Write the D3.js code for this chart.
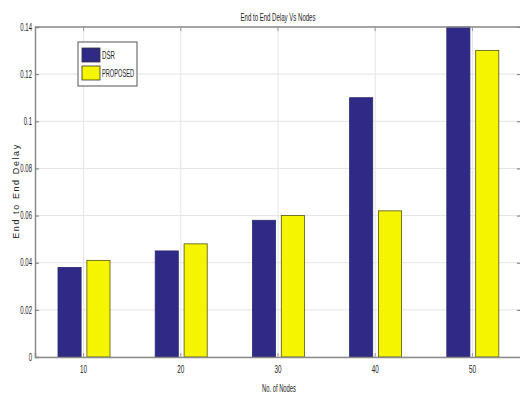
<!DOCTYPE html>
<html><head><meta charset="utf-8">
<script src="https://cdn.jsdelivr.net/npm/d3@7"></script>
<style>body{margin:0;background:#fff}svg{display:block}text{font-family:"Liberation Sans",Arial,sans-serif;fill:#222}</style>
</head><body><svg id="c" width="520" height="394"></svg>
<script>
const categories = [10, 20, 30, 40, 50];
const seriesNames = ["DSR", "PROPOSED"];
const dsr = [0.038, 0.045, 0.058, 0.110, 0.140];
const proposed = [0.041, 0.048, 0.060, 0.062, 0.130];
const yTicks = [0, 0.02, 0.04, 0.06, 0.08, 0.1, 0.12, 0.14];
const yTickLabels = ["0", "0.02", "0.04", "0.06", "0.08", "0.1", "0.12", "0.14"];
const colors = ["#2f2a86", "#f5f500"];

const svg = d3.select("#c");
const L = 35, R = 521, T = 27, B = 357;
const x = d3.scaleBand().domain(categories).range([L, R]).padding(0);
const xs = d3.scaleBand().domain(seriesNames).range([23, 75]).paddingInner(0.2).paddingOuter(0);
const y = d3.scaleLinear().domain([0, 0.14]).range([B, T]);

// grid
const g = svg.append("g");
g.selectAll(".hg").data(yTicks).join("line")
  .attr("x1", L).attr("x2", R).attr("y1", d => y(d)).attr("y2", d => y(d))
  .attr("stroke", "#e4e4e4").attr("stroke-width", 1);
g.selectAll(".vg").data(categories).join("line")
  .attr("x1", d => x(d) + x.bandwidth() / 2).attr("x2", d => x(d) + x.bandwidth() / 2)
  .attr("y1", T).attr("y2", B).attr("stroke", "#e4e4e4").attr("stroke-width", 1);

// bars
const rows = categories.map((c, i) => ({c, vals: [dsr[i], proposed[i]]}));
const grp = svg.append("g").selectAll("g").data(rows).join("g")
  .attr("transform", d => `translate(${x(d.c)},0)`);
grp.selectAll("rect").data(d => d.vals.map((v, k) => ({k, v}))).join("rect")
  .attr("x", d => xs(seriesNames[d.k])).attr("width", xs.bandwidth())
  .attr("y", d => y(d.v)).attr("height", d => y(0) - y(d.v))
  .attr("fill", d => colors[d.k])
  .attr("stroke", d => d.k === 0 ? "#2a2570" : "#55550a").attr("stroke-width", 0.8);

// axes
const yAx = d3.axisLeft(y).tickValues(yTicks).tickFormat((d, i) => yTickLabels[i]).tickSize(-4).tickPadding(3);
const ya = svg.append("g").attr("transform", `translate(${L},0)`).call(yAx);
ya.select(".domain").attr("stroke", "#8a8a8a").attr("stroke-width", 1.5);
ya.selectAll(".tick line").attr("stroke", "#777");
ya.selectAll("text").style("font-size", "10px").attr("fill", "#333")
  .each(function(){ const w = this.getComputedTextLength(); d3.select(this).attr("textLength", w*0.6).attr("lengthAdjust","spacingAndGlyphs"); });

const yR = d3.axisRight(y).tickValues(yTicks).tickFormat("").tickSize(-4);
const yr = svg.append("g").attr("transform", `translate(${R},0)`).call(yR);
yr.select(".domain").attr("stroke", "#8a8a8a");
yr.selectAll(".tick line").attr("stroke", "#777");

const xAx = d3.axisBottom(x).tickSize(-4).tickPadding(9);
const xa = svg.append("g").attr("transform", `translate(0,${B})`).call(xAx);
xa.select(".domain").attr("stroke", "#8a8a8a").attr("stroke-width", 1.5);
xa.selectAll(".tick line").attr("stroke", "#999");
xa.selectAll("text").style("font-size", "10px").attr("fill", "#333")
  .each(function(){ const w = this.getComputedTextLength(); d3.select(this).attr("textLength", w*0.63).attr("lengthAdjust","spacingAndGlyphs"); });

// top border
svg.append("line").attr("x1", L).attr("x2", R).attr("y1", T).attr("y2", T).attr("stroke", "#8a8a8a").attr("stroke-width", 1.5);
const xTop = d3.axisTop(x).tickSize(-4).tickFormat("");
const xt = svg.append("g").attr("transform", `translate(0,${T})`).call(xTop);
xt.select(".domain").remove();
xt.selectAll(".tick line").attr("stroke", "#999");

// title & labels
svg.append("text").attr("x", 278).attr("y", 21).attr("text-anchor", "middle")
  .style("font-size", "10px").attr("textLength", 75).attr("lengthAdjust", "spacingAndGlyphs")
  .text("End to End Delay Vs Nodes");
svg.append("text").attr("x", 279).attr("y", 392).attr("text-anchor", "middle")
  .style("font-size", "10px").attr("textLength", 34).attr("lengthAdjust", "spacingAndGlyphs")
  .text("No. of Nodes");
svg.append("text").attr("transform", "translate(19,191) rotate(-90)").attr("text-anchor", "middle")
  .style("font-size", "9px").style("letter-spacing", "1.6px").attr("fill", "#333")
  .text("End to End Delay");

// legend
const lg = svg.append("g");
lg.append("rect").attr("x", 78).attr("y", 42).attr("width", 59).attr("height", 44)
  .attr("fill", "#fff").attr("stroke", "#555").attr("stroke-width", 1);
seriesNames.forEach((n, i) => {
  lg.append("rect").attr("x", 82).attr("y", 48 + i * 18).attr("width", 18).attr("height", 14)
    .attr("fill", colors[i]).attr("stroke", "#333").attr("stroke-width", 0.8);
  lg.append("text").attr("x", 102).attr("y", 59 + i * 18).style("font-size", "10px")
    .attr("textLength", i === 0 ? 13 : 32).attr("lengthAdjust", "spacingAndGlyphs").text(n);
});
</script></body></html>
